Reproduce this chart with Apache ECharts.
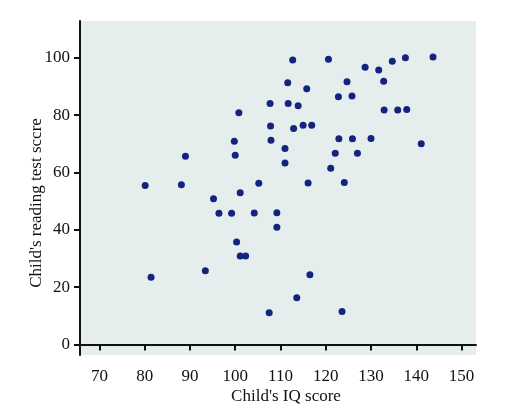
<!DOCTYPE html>
<html>
<head>
<meta charset="utf-8">
<script src="https://cdn.jsdelivr.net/npm/echarts@6/dist/echarts.min.js"></script>
<style>
  html, body { margin: 0; padding: 0; background: #fff; }
  #chart { width: 521px; height: 410px; }
</style>
</head>
<body>
<div id="chart"></div>
<script>
// child's IQ score (x) and reading test score (y)
const iq = [
  111.6, 107.7, 111.7, 100.8, 107.8, 99.8, 107.9, 111.0, 89.0, 100.0,
  111.0, 80.1, 88.1, 105.2, 101.1, 95.2, 112.7, 120.6, 128.7, 131.7,
  134.7, 137.6, 143.7, 124.7, 132.8, 115.8, 122.8, 125.8, 113.9, 132.9,
  135.9, 137.9, 112.9, 115.0, 116.9, 122.9, 125.9, 130.0, 141.1, 122.1,
  127.0, 121.1, 116.1, 124.1, 96.4, 99.2, 104.2, 109.2, 109.2, 100.3,
  101.1, 102.3, 93.4, 81.4, 107.5, 116.5, 113.6, 123.6
];
const reading = [
  91.3, 84.0, 84.0, 80.8, 76.2, 70.9, 71.2, 68.3, 65.6, 66.0,
  63.3, 55.4, 55.7, 56.2, 52.9, 50.8, 99.2, 99.5, 96.7, 95.7,
  98.8, 100.0, 100.2, 91.6, 91.8, 89.2, 86.4, 86.6, 83.2, 81.8,
  81.8, 81.9, 75.3, 76.4, 76.4, 71.7, 71.7, 71.8, 70.0, 66.7,
  66.7, 61.4, 56.3, 56.5, 45.7, 45.7, 45.8, 45.9, 40.9, 35.7,
  30.8, 30.8, 25.7, 23.4, 11.0, 24.3, 16.3, 11.5
];
const xTicks = [70, 80, 90, 100, 110, 120, 130, 140, 150];
const yTicks = [0, 20, 40, 60, 80, 100];

const points = iq.map((v, i) => [v, reading[i]]);
const serif = '"Liberation Serif", "DejaVu Serif", serif';

const chart = echarts.init(document.getElementById('chart'));
chart.setOption({
  animation: false,
  grid: {
    left: 80, right: 45, top: 21, bottom: 55,
    containLabel: false,
    outerBoundsMode: 'none',
    show: true,
    backgroundColor: '#e5eeec',
    borderWidth: 0
  },
  xAxis: {
    type: 'value',
    min: 65.7, max: 153.2,
    name: "Child's IQ score",
    nameLocation: 'middle',
    nameGap: 33,
    nameMoveOverlap: false,
    nameTextStyle: { fontFamily: serif, fontSize: 17, color: '#111', padding: [0, 0, 0, 16] },
    axisLine: { show: true, lineStyle: { color: '#111', width: 2 } },
    axisTick: { show: true, length: 6, lineStyle: { color: '#111', width: 2 }, customValues: xTicks },
    axisLabel: { fontFamily: serif, fontSize: 17, color: '#111', margin: 13, customValues: xTicks },
    splitLine: { show: false }
  },
  yAxis: {
    type: 'value',
    min: -3.7, max: 112.8,
    name: "Child's reading test sccre",
    nameLocation: 'middle',
    nameGap: 35,
    nameMoveOverlap: false,
    nameTextStyle: { fontFamily: serif, fontSize: 17, color: '#111', padding: [0, 30, 0, 0] },
    axisLine: { show: true, lineStyle: { color: '#111', width: 2 } },
    axisTick: { show: true, length: 6, lineStyle: { color: '#111', width: 2 }, customValues: yTicks },
    axisLabel: { fontFamily: serif, fontSize: 17, color: '#111', margin: 10, customValues: yTicks },
    splitLine: { show: false }
  },
  series: [{
    type: 'scatter',
    data: points,
    symbolSize: 7,
    itemStyle: { color: '#14237f', opacity: 1 }
  }]
});
</script>
</body>
</html>
